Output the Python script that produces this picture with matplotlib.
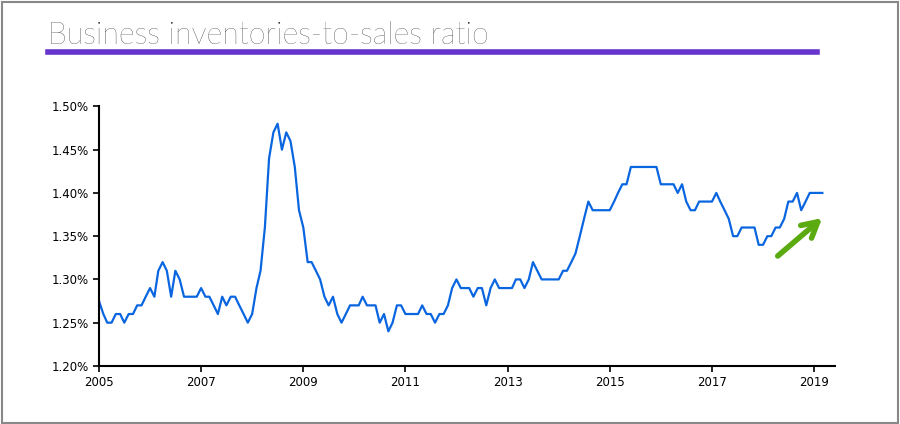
import matplotlib
matplotlib.use("Agg")
import matplotlib.pyplot as plt
import matplotlib.ticker as mt
import numpy as np
import pandas as pd

start = "2005-01"
ratio = [
 1.275,1.26,1.25,1.25,1.26,1.26,1.25,1.26,1.26,1.27,1.27,1.28,
 1.29,1.28,1.31,1.32,1.31,1.28,1.31,1.30,1.28,1.28,1.28,1.28,
 1.29,1.28,1.28,1.27,1.26,1.28,1.27,1.28,1.28,1.27,1.26,1.25,
 1.26,1.29,1.31,1.36,1.44,1.47,1.48,1.45,1.47,1.46,1.43,1.38,
 1.36,1.32,1.32,1.31,1.30,1.28,1.27,1.28,1.26,1.25,1.26,1.27,
 1.27,1.27,1.28,1.27,1.27,1.27,1.25,1.26,1.24,1.25,1.27,1.27,
 1.26,1.26,1.26,1.26,1.27,1.26,1.26,1.25,1.26,1.26,1.27,1.29,
 1.30,1.29,1.29,1.29,1.28,1.29,1.29,1.27,1.29,1.30,1.29,1.29,
 1.29,1.29,1.30,1.30,1.29,1.30,1.32,1.31,1.30,1.30,1.30,1.30,
 1.30,1.31,1.31,1.32,1.33,1.35,1.37,1.39,1.38,1.38,1.38,1.38,
 1.38,1.39,1.40,1.41,1.41,1.43,1.43,1.43,1.43,1.43,1.43,1.43,
 1.41,1.41,1.41,1.41,1.40,1.41,1.39,1.38,1.38,1.39,1.39,1.39,
 1.39,1.40,1.39,1.38,1.37,1.35,1.35,1.36,1.36,1.36,1.36,1.34,
 1.34,1.35,1.35,1.36,1.36,1.37,1.39,1.39,1.40,1.38,1.39,1.40,
 1.40,1.40,1.40,
]
dates = pd.date_range(start, periods=len(ratio), freq="MS")
xticks = [2005, 2007, 2009, 2011, 2013, 2015, 2017, 2019]
yticks = [1.20, 1.25, 1.30, 1.35, 1.40, 1.45, 1.50]
title = "Business inventories-to-sales ratio"

fig = plt.figure(figsize=(9, 4.24), dpi=100)
fig.patches.append(plt.Rectangle((0.002, 0.002), 0.996, 0.994, transform=fig.transFigure,
                                 fill=False, edgecolor="#888888", lw=1.5))
fig.text(0.053, 0.897, title, fontsize=22, family="Lato", weight="light", color="#222222")
fig.add_artist(plt.Line2D([0.053, 0.908], [0.877, 0.877], color="#6633cc", lw=4))

ax = fig.add_axes([0.110, 0.137, 0.818, 0.612])
ax.plot(dates, ratio, color="#0a66e0", lw=1.6)
ax.set_ylim(1.20, 1.50)
ax.set_yticks(yticks)
ax.yaxis.set_major_formatter(mt.FuncFormatter(lambda v, p: f"{v:.2f}%"))
ax.set_xlim(pd.Timestamp("2005-01-01"), pd.Timestamp("2019-06-01"))
ax.set_xticks([pd.Timestamp(f"{y}-01-01") for y in xticks])
ax.set_xticklabels([str(y) for y in xticks])
for s in ["top", "right"]:
    ax.spines[s].set_visible(False)
for s in ["left", "bottom"]:
    ax.spines[s].set_linewidth(1.5)
ax.tick_params(labelsize=8.5, length=4, width=1.2)
ax.annotate("", xy=(pd.Timestamp("2019-03-15"), 1.373), xytext=(pd.Timestamp("2018-04-01"), 1.325),
            arrowprops=dict(arrowstyle="->,head_length=1.1,head_width=0.6", color="#5aaa10", lw=4))
fig.savefig("out.png", dpi=100)
